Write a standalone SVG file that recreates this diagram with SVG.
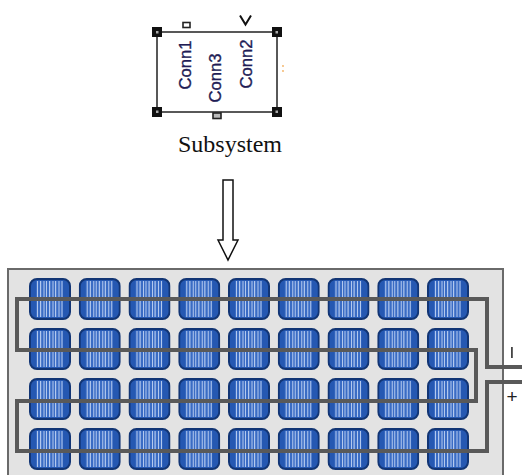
<svg xmlns="http://www.w3.org/2000/svg" xmlns:xlink="http://www.w3.org/1999/xlink" width="522" height="475" viewBox="0 0 522 475">
  <style>
    .conn { font-family: "Liberation Sans", Arial, sans-serif; font-size: 16px; fill: #211c55; stroke: #211c55; stroke-width: 0.35; }
    .caption { font-family: "Liberation Serif", "Times New Roman", serif; font-size: 24px; fill: #111; }
    .handle { fill: #111; }
    .bus { fill: none; stroke: #595959; stroke-width: 4; stroke-linejoin: miter; }
    .pol { font-family: "Liberation Sans", Arial, sans-serif; font-size: 19px; fill: #222; }
  </style>
  <defs>
    <!-- one photovoltaic cell, 42 x 42 -->
    <symbol id="cell" viewBox="0 0 42 42" width="42" height="42">
      <rect x="1" y="1" width="40" height="40" rx="7" ry="7" fill="#2558b2" stroke="#123574" stroke-width="2"/>
      <rect x="7" y="3" width="27" height="36" fill="#3a6cc4"/>
      <g fill="#b2c8ee">
        <rect x="8" y="3" width="1" height="36"/>
        <rect x="11" y="3" width="1.2" height="36"/>
        <rect x="14.5" y="3" width="1" height="36"/>
        <rect x="17" y="3" width="1" height="36"/>
        <rect x="20" y="3" width="1.2" height="36"/>
        <rect x="23.5" y="3" width="1" height="36"/>
        <rect x="26" y="3" width="1.2" height="36"/>
        <rect x="29.5" y="3" width="1" height="36"/>
        <rect x="32.5" y="3" width="1" height="36"/>
      </g>
    </symbol>
  </defs>

  <!-- Simulink subsystem block -->
  <g id="subsystem">
    <rect x="157" y="32" width="120" height="80" fill="#fff" stroke="#222" stroke-width="1.5"/>
    <!-- selection handles -->
    <rect class="handle" x="152" y="27" width="10" height="10"/>
    <rect class="handle" x="272" y="27" width="10" height="10"/>
    <rect class="handle" x="152" y="107" width="10" height="10"/>
    <rect class="handle" x="272" y="107" width="10" height="10"/>
    <rect x="156" y="31" width="2.5" height="2.5" fill="#aaa"/>
    <rect x="275.5" y="31" width="2.5" height="2.5" fill="#aaa"/>
    <rect x="156" y="110.5" width="2.5" height="2.5" fill="#aaa"/>
    <rect x="275.5" y="110.5" width="2.5" height="2.5" fill="#aaa"/>
    <!-- physical ports -->
    <rect x="183" y="22.5" width="7" height="5" fill="#fff" stroke="#222" stroke-width="1.6"/>
    <rect x="213" y="113" width="8" height="5.5" fill="#bbb" stroke="#222" stroke-width="1.6"/>
    <path d="M240,15.5 L245.5,24.5 L251,15.5" fill="none" stroke="#111" stroke-width="2"/>
    <circle cx="283" cy="66" r="0.9" fill="#f3b060"/>
    <circle cx="283" cy="71" r="0.9" fill="#f3b060"/>
    <!-- port labels -->
    <text class="conn" transform="translate(191,65) rotate(-90)" text-anchor="middle" textLength="49" lengthAdjust="spacingAndGlyphs">Conn1</text>
    <text class="conn" transform="translate(221,78) rotate(-90)" text-anchor="middle" textLength="49" lengthAdjust="spacingAndGlyphs">Conn3</text>
    <text class="conn" transform="translate(252,64) rotate(-90)" text-anchor="middle" textLength="49" lengthAdjust="spacingAndGlyphs">Conn2</text>
    <text class="caption" x="230" y="152" text-anchor="middle">Subsystem</text>
  </g>

  <!-- hollow arrow -->
  <g id="arrow">
    <polygon points="223,180 233,180 233,240 238,240 228,260 218,240 223,240" fill="#fff" stroke="#111" stroke-width="1.5" stroke-linejoin="miter"/>
  </g>

  <!-- PV module -->
  <g id="panel">
    <rect x="8" y="269" width="495" height="215" fill="#e3e3e3" stroke="#6a6a6a" stroke-width="2"/>
    <g id="cells">
      <!-- row 1 -->
      <use xlink:href="#cell" x="29" y="278"/>
      <use xlink:href="#cell" x="78.75" y="278"/>
      <use xlink:href="#cell" x="128.5" y="278"/>
      <use xlink:href="#cell" x="178.25" y="278"/>
      <use xlink:href="#cell" x="228" y="278"/>
      <use xlink:href="#cell" x="277.75" y="278"/>
      <use xlink:href="#cell" x="327.5" y="278"/>
      <use xlink:href="#cell" x="377.25" y="278"/>
      <use xlink:href="#cell" x="427" y="278"/>
      <!-- row 2 -->
      <use xlink:href="#cell" x="29" y="328"/>
      <use xlink:href="#cell" x="78.75" y="328"/>
      <use xlink:href="#cell" x="128.5" y="328"/>
      <use xlink:href="#cell" x="178.25" y="328"/>
      <use xlink:href="#cell" x="228" y="328"/>
      <use xlink:href="#cell" x="277.75" y="328"/>
      <use xlink:href="#cell" x="327.5" y="328"/>
      <use xlink:href="#cell" x="377.25" y="328"/>
      <use xlink:href="#cell" x="427" y="328"/>
      <!-- row 3 -->
      <use xlink:href="#cell" x="29" y="378"/>
      <use xlink:href="#cell" x="78.75" y="378"/>
      <use xlink:href="#cell" x="128.5" y="378"/>
      <use xlink:href="#cell" x="178.25" y="378"/>
      <use xlink:href="#cell" x="228" y="378"/>
      <use xlink:href="#cell" x="277.75" y="378"/>
      <use xlink:href="#cell" x="327.5" y="378"/>
      <use xlink:href="#cell" x="377.25" y="378"/>
      <use xlink:href="#cell" x="427" y="378"/>
      <!-- row 4 -->
      <use xlink:href="#cell" x="29" y="428"/>
      <use xlink:href="#cell" x="78.75" y="428"/>
      <use xlink:href="#cell" x="128.5" y="428"/>
      <use xlink:href="#cell" x="178.25" y="428"/>
      <use xlink:href="#cell" x="228" y="428"/>
      <use xlink:href="#cell" x="277.75" y="428"/>
      <use xlink:href="#cell" x="327.5" y="428"/>
      <use xlink:href="#cell" x="377.25" y="428"/>
      <use xlink:href="#cell" x="427" y="428"/>
    </g>
  </g>

  <!-- series string wiring -->
  <g id="connectors">
    <polyline class="bus" points="522,367 487,367 487,299 17,299 17,350 476,350 476,401 17,401 17,451 487,451 487,382 522,382"/>
  </g>

  <!-- terminal polarity marks -->
  <g id="terminals">
    <rect x="511" y="347" width="1.8" height="11" fill="#444"/>
    <text class="pol" x="512" y="403" text-anchor="middle">+</text>
  </g>
</svg>
